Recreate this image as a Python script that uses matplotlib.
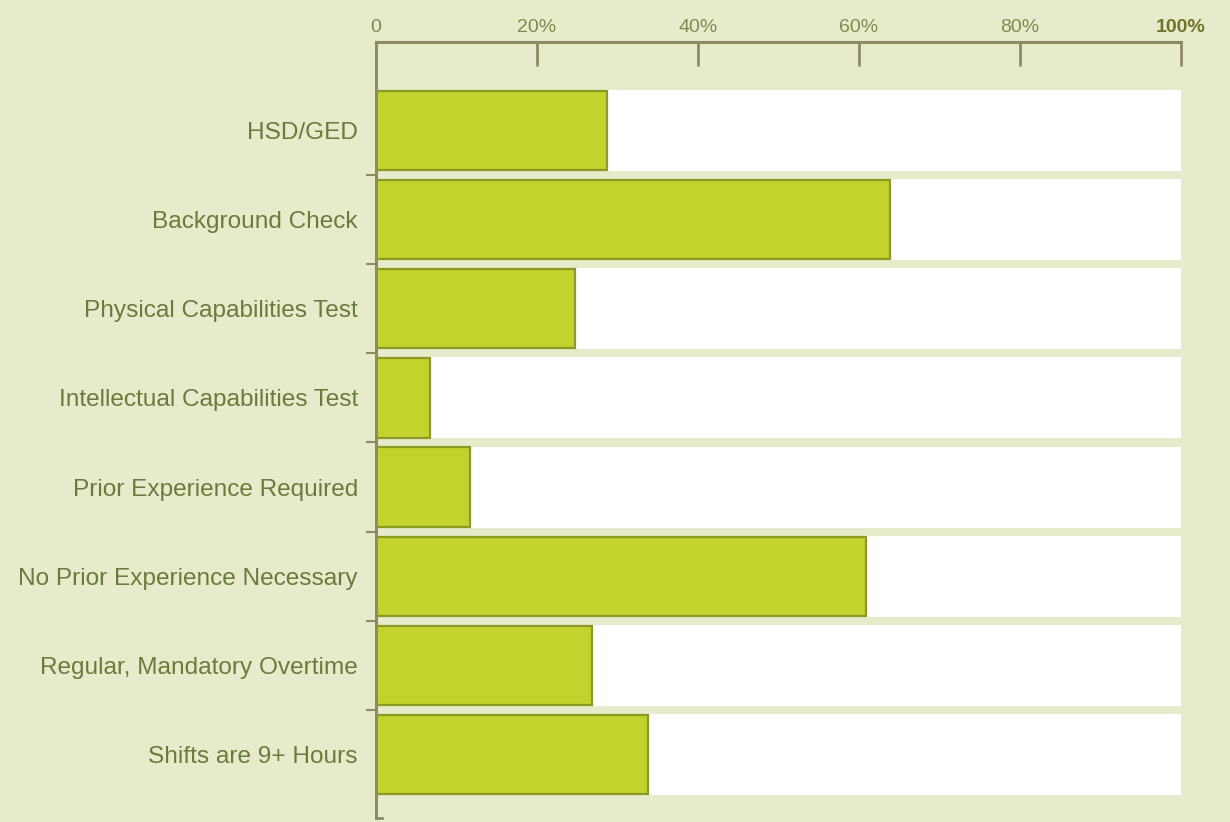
import matplotlib
matplotlib.use("Agg")

import numpy as np
import matplotlib.pyplot as plt

# data
categories = [
    "HSD/GED",
    "Background Check",
    "Physical Capabilities Test",
    "Intellectual Capabilities Test",
    "Prior Experience Required",
    "No Prior Experience Necessary",
    "Regular, Mandatory Overtime",
    "Shifts are 9+ Hours",
]
values = [28.7, 63.9, 24.7, 6.7, 11.7, 60.9, 26.8, 33.8]
tick_values = [0, 20, 40, 60, 80, 100]
tick_labels = ["0", "20%", "40%", "60%", "80%", "100%"]

BG = "#e7eacb"
BAR = "#c3d32e"
BAR_EDGE = "#8a9a22"
TEXT = "#6c7a3a"
AXIS = "#8c8c62"
NARROW = ["Liberation Sans Narrow", "Liberation Sans", "DejaVu Sans"]

fig = plt.figure(figsize=(12.3, 8.22), dpi=100)
fig.patch.set_facecolor(BG)
ax = fig.add_axes([376 / 1230, 1 - 818 / 822, (1181 - 376) / 1230, (818 - 42) / 822])
ax.set_facecolor(BG)

y = np.arange(len(categories))
track_h = 0.91

# white tracks behind each bar
ax.barh(y, [100] * len(categories), height=track_h, color="white", lw=0, zorder=1)
ax.barh(y, values, height=track_h - 0.02, color=BAR, edgecolor=BAR_EDGE, lw=1.6, zorder=2)

ax.set_xlim(0, 100)
ax.set_ylim(len(categories) - 1 + 0.71, -0.99)

# top axis
ax.xaxis.tick_top()
ax.set_xticks(tick_values)
ax.set_xticklabels(tick_labels, family=NARROW, fontsize=14, color="#848a4c")
ax.get_xticklabels()[-1].set_fontweight("bold")
ax.get_xticklabels()[-1].set_color("#6f7428")
ax.tick_params(axis="x", direction="in", length=17, width=2, color=AXIS, pad=4)

# left spine with small separators between rows
ax.set_yticks(y)
ax.set_yticklabels(categories, family=NARROW, fontsize=17.6, color=TEXT)
ax.set_yticks(np.arange(len(categories) - 1) + 0.5, minor=True)
ax.tick_params(axis="y", which="major", length=0, pad=13)
ax.tick_params(axis="y", which="minor", direction="out", length=7, width=1.5, color=AXIS)

for side in ["right", "bottom"]:
    ax.spines[side].set_visible(False)
for side in ["top", "left"]:
    ax.spines[side].set_color(AXIS)
    ax.spines[side].set_linewidth(2.2)

# small hook at the bottom of the left spine
ax.plot([0, 0.8], [len(categories) - 1 + 0.71, len(categories) - 1 + 0.71],
        color=AXIS, lw=2, clip_on=False, zorder=3)

fig.savefig("out.png", dpi=100, facecolor=BG)
